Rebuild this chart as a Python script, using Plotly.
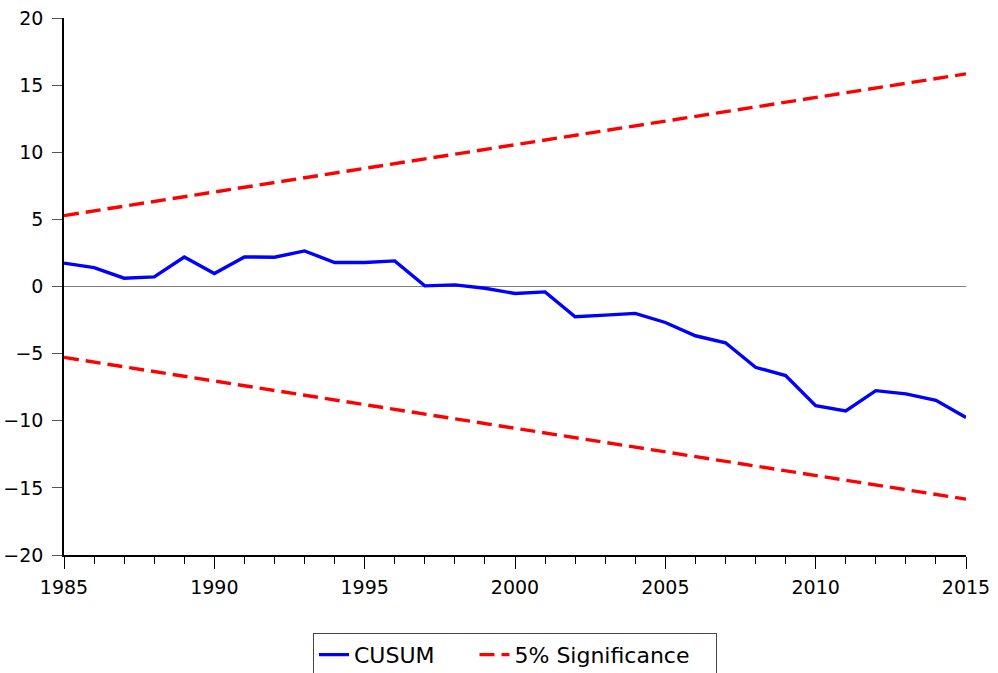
import plotly.graph_objects as go

years = list(range(1985, 2016))
cusum = [1.74, 1.41, 0.62, 0.72, 2.20, 0.97, 2.20, 2.18, 2.65, 1.79, 1.79, 1.91,
         0.05, 0.12, -0.13, -0.52, -0.40, -2.25, -2.13, -2.00, -2.68, -3.67,
         -4.19, -6.02, -6.64, -8.87, -9.27, -7.76, -8.00, -8.48, -9.76]
bound_years = [1985, 2015]
upper = [5.28, 15.84]
lower = [-5.28, -15.84]
x_ticks = [1985, 1990, 1995, 2000, 2005, 2010, 2015]
y_ticks = [-20, -15, -10, -5, 0, 5, 10, 15, 20]

FONT = "DejaVu Sans, Liberation Sans, Arial, sans-serif"
NB = "\u00a0"

fig = go.Figure()
fig.add_trace(go.Scatter(x=years, y=cusum, mode="lines", name="CUSUM" + NB * 5,
                         line=dict(color="#0000FF", width=3.4)))
fig.add_trace(go.Scatter(x=bound_years, y=upper, mode="lines", name="5% Significance" + NB * 3,
                         line=dict(color="#FF0000", width=3.4, dash="15px,7px")))
fig.add_trace(go.Scatter(x=bound_years, y=lower, mode="lines", showlegend=False,
                         line=dict(color="#FF0000", width=3.4, dash="15px,7px")))

fig.update_layout(
    width=998, height=673,
    margin=dict(l=64, r=32, t=18, b=118, autoexpand=False),
    paper_bgcolor="white", plot_bgcolor="white",
    font=dict(family=FONT, size=19, color="black"),
    showlegend=True,
    legend=dict(orientation="h", x=0.5, xanchor="center", y=-0.145, yanchor="top",
                bordercolor="#444444", borderwidth=1, font=dict(size=22, family=FONT),
                tracegroupgap=0),
)
fig.update_xaxes(range=[1985, 2015], tickmode="array", tickvals=x_ticks,
                 ticks="outside", ticklen=12, tickcolor="black", tickwidth=1,
                 showline=True, linecolor="black", linewidth=1.5, showgrid=False, zeroline=False,
                 automargin=False, tickfont=dict(size=19, family=FONT), ticklabelstandoff=2,
                 minor=dict(tickmode="linear", dtick=1, tick0=1985, ticks="outside", ticklen=7,
                            tickcolor="black", showgrid=False))
fig.update_yaxes(range=[-20, 20], tickmode="array", tickvals=y_ticks,
                 ticks="outside", ticklen=10, tickcolor="#555555", tickwidth=1,
                 showline=True, linecolor="black", linewidth=1.5, showgrid=False,
                 zeroline=True, zerolinecolor="#808080", zerolinewidth=1.2,
                 automargin=False, tickfont=dict(size=19, family=FONT), ticklabelstandoff=5)

fig.write_html("out.html", config={"displayModeBar": False},
               post_script="document.body.style.margin='0';document.body.style.overflow='hidden';")
